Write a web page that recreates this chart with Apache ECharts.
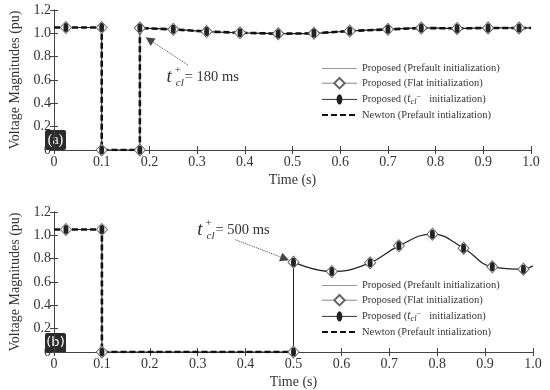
<!DOCTYPE html>
<html><head><meta charset="utf-8">
<script src="https://cdn.jsdelivr.net/npm/echarts@6/dist/echarts.min.js"></script>
<style>html,body{margin:0;padding:0;background:#fff}#c{width:550px;height:390px}</style>
</head><body><div id="c"></div>
<script>
// ---- Data ----
const xTicks = [0,0.1,0.2,0.3,0.4,0.5,0.6,0.7,0.8,0.9,1.0];
const yTicks = [0,0.2,0.4,0.6,0.8,1.0,1.2];
// Panel (a)
const aStepT = [0, 0.1, 0.1, 0.18, 0.18];
const aStepV = [1.05, 1.05, 0, 0, 1.045];
const aCurveT = [0.18, 0.25, 0.32, 0.39, 0.47, 0.545, 0.62, 0.70, 0.77, 0.845, 0.91, 0.975, 1.0];
const aCurveV = [1.045, 1.034, 1.015, 1.005, 0.997, 1.0, 1.02, 1.034, 1.046, 1.042, 1.046, 1.046, 1.046];
const aMarkT = [0.025, 0.1, 0.1, 0.18, 0.18, 0.25, 0.32, 0.39, 0.47, 0.545, 0.62, 0.70, 0.77, 0.845, 0.91, 0.975];
const aMarkV = [1.05, 1.05, 0, 0, 1.045, 1.034, 1.015, 1.005, 0.997, 1.0, 1.02, 1.034, 1.046, 1.042, 1.046, 1.046];
const aNewtonT = [0, 0.1, 0.1, 0.18, 0.18, 0.25, 0.32, 0.39, 0.47, 0.545, 0.62, 0.70, 0.77, 0.845, 0.91, 0.975, 1.0];
const aNewtonV = [1.05, 1.05, 0, 0, 1.045, 1.034, 1.015, 1.005, 0.997, 1.0, 1.02, 1.034, 1.046, 1.042, 1.046, 1.046, 1.046];
const aArrow = [[0.281, 0.728], [0.2, 0.945]];
const aText = [0.235, 0.625];
// Panel (b)
const bStepT = [0, 0.1, 0.1, 0.5, 0.5];
const bStepV = [1.05, 1.05, 0, 0, 0.77];
const bCurveT = [0.5, 0.58, 0.66, 0.72, 0.79, 0.855, 0.915, 0.98, 1.0];
const bCurveV = [0.77, 0.69, 0.765, 0.91, 1.01, 0.89, 0.73, 0.71, 0.74];
const bMarkT = [0.025, 0.1, 0.1, 0.5, 0.5, 0.58, 0.66, 0.72, 0.79, 0.855, 0.915, 0.98];
const bMarkV = [1.05, 1.05, 0, 0, 0.77, 0.69, 0.765, 0.91, 1.01, 0.89, 0.73, 0.71];
const bNewtonT = [0, 0.1, 0.1, 0.5];
const bNewtonV = [1.05, 1.05, 0, 0];
const bArrow = [[0.379, 0.962], [0.482, 0.80]];
const bText = [0.298, 1.047];

const N1 = 'Proposed (Prefault initialization)';
const N2 = 'Proposed (Flat initialization)';
const N3 = 'Proposed (tcl- initialization)';
const N4 = 'Newton (Prefault intialization)';
const labelsA = ['(a)'], labelsB = ['(b)'];
const annA = '180 ms', annB = '500 ms';

// ---- Build ----
const zip = (t, v) => t.map((x, i) => [x, v[i]]);
const SERIF = 'Liberation Serif';
// ellipse (10x18) centred in an 18x18 box so that square-sized symbols still look elliptical
const ellipse = 'path://M0,0 L0.01,0 M4,9 A5,9 0 1,1 14,9 A5,9 0 1,1 4,9 Z M18,18 L17.99,18';

function xAxes(g) {
  const base = {type:'value', gridIndex:g, min:0, max:1, interval:0.1,
    axisLine:{show:true, lineStyle:{color:'#444', width:1}},
    axisTick:{show:true, inside:true, length:4, lineStyle:{color:'#444'}},
    splitLine:{show:false}};
  return [
    Object.assign({}, base, {position:'bottom', name:'Time (s)', nameLocation:'middle', nameGap:23,
      nameTextStyle:{fontFamily:SERIF, fontSize:14, color:'#333'},
      axisLabel:{fontFamily:SERIF, fontSize:14, color:'#333', margin:5,
        formatter: v => v === 0 ? '0' : v.toFixed(1)}}),
    Object.assign({}, base, {position:'top', axisLabel:{show:false}})
  ];
}
function yAxes(g) {
  const base = {type:'value', gridIndex:g, min:0, max:1.2, interval:0.2,
    axisLine:{show:true, lineStyle:{color:'#444', width:1}},
    axisTick:{show:true, inside:true, length:4, lineStyle:{color:'#444'}},
    splitLine:{show:false}};
  return [
    Object.assign({}, base, {position:'left', name:'Voltage Magnitudes (pu)', nameLocation:'middle', nameGap:32,
      nameTextStyle:{fontFamily:SERIF, fontSize:14, color:'#333'},
      axisLabel:{fontFamily:SERIF, fontSize:14, color:'#333', margin:3,
        formatter: v => v === 0 ? '0' : v.toFixed(1)}}),
    Object.assign({}, base, {position:'right', axisLabel:{show:false}})
  ];
}

const annRich = {
  t:{fontFamily:SERIF, fontStyle:'italic', fontSize:19, lineHeight:24, color:'#333'},
  sp:{fontFamily:SERIF, fontSize:11, lineHeight:11, verticalAlign:'top', width:1, padding:[0,0,0,3], color:'#333'},
  sb:{fontFamily:SERIF, fontStyle:'italic', fontSize:11, lineHeight:11, verticalAlign:'bottom', color:'#333'},
  eq:{fontFamily:SERIF, fontSize:14.5, lineHeight:24, color:'#333', padding:[0,0,0,1]}
};

function panelSeries(xi, stepT, stepV, curveT, curveV, markT, markV, newT, newV, arrow, txt, ann) {
  return [
    {name:N1, type:'line', xAxisIndex:xi, yAxisIndex:xi, data:zip(stepT, stepV), symbol:'none', showSymbol:false,
      lineStyle:{color:'#222', width:1}, itemStyle:{color:'#888'}, z:2, animation:false},
    {name:N1, type:'line', xAxisIndex:xi, yAxisIndex:xi, data:zip(curveT, curveV), symbol:'none', showSymbol:false, smooth:0.45,
      lineStyle:{color:'#222', width:1.2}, itemStyle:{color:'#888'}, z:2, animation:false,
      markLine:{silent:true, animation:false, label:{show:false}, lineStyle:{type:'dotted', color:'#444', width:1},
        data:[[{coord:arrow[0], symbol:'none'}, {coord:arrow[1], symbol:'triangle', symbolSize:9}]]},
      markPoint:{silent:true, animation:false, data:[{coord:txt, symbol:'rect', symbolSize:1,
        itemStyle:{color:'transparent'},
        label:{show:true, position:'right', distance:0, formatter:'{t|t}{sp|+}{sb|cl}{eq|= ' + ann + '}', rich:annRich}}]}},
    {name:N4, type:'line', xAxisIndex:xi, yAxisIndex:xi, data:zip(newT, newV), symbol:'none', showSymbol:false,
      lineStyle:{color:'#111', width:2.6, type:[6,3]}, itemStyle:{color:'#111'}, z:3, animation:false},
    {name:N2, type:'line', xAxisIndex:xi, yAxisIndex:xi, data:zip(markT, markV), symbol:'diamond', symbolSize:[11,12],
      showAllSymbol:true, lineStyle:{opacity:0}, itemStyle:{color:'#fff', borderColor:'#666', borderWidth:1}, z:4, animation:false},
    {name:N3, type:'line', xAxisIndex:xi, yAxisIndex:xi, data:zip(markT, markV), symbol:ellipse, symbolSize:[9,9],
      showAllSymbol:true, lineStyle:{opacity:0}, itemStyle:{color:'#222'}, z:5, animation:false}
  ];
}

const legRich = {
  n:{fontFamily:SERIF, fontSize:10.5, color:'#333'},
  t:{fontFamily:SERIF, fontStyle:'italic', fontSize:11.5, color:'#333', lineHeight:14},
  sb:{fontFamily:SERIF, fontStyle:'italic', fontSize:8.5, color:'#333', lineHeight:8, verticalAlign:'bottom'},
  sp:{fontFamily:SERIF, fontSize:8.5, color:'#333', lineHeight:8, verticalAlign:'top'}
};
function legend(top) {
  return {top:top, left:321, padding:0, orient:'vertical', itemWidth:35, itemHeight:13, itemGap:3,
    selectedMode:false, textStyle:{fontFamily:SERIF, fontSize:10.5, color:'#333', rich:legRich},
    formatter: n => n === N3 ? '{n|Proposed (}{t|t}{sb|cl}{sp|\u2212}{n|   initialization)}' : '{n|' + n + '}',
    data:[
      {name:N1, itemStyle:{opacity:0}, lineStyle:{color:'#999', width:1}},
      {name:N2, lineStyle:{opacity:1, color:'#888', width:1}},
      {name:N3, lineStyle:{opacity:1, color:'#333', width:1}},
      {name:N4, itemStyle:{opacity:0}}
    ]};
}

const chart = echarts.init(document.getElementById('c'), null, {renderer:'canvas'});
chart.setOption({
  animation:false,
  grid:[{left:45, right:19, top:10, height:140}, {left:45, right:17, top:212, height:141}],
  xAxis: xAxes(0).concat(xAxes(1)),
  yAxis: yAxes(0).concat(yAxes(1)),
  legend:[legend(63), legend(280)],
  series: panelSeries(0, aStepT, aStepV, aCurveT, aCurveV, aMarkT, aMarkV, aNewtonT, aNewtonV, aArrow, aText, annA)
    .concat(panelSeries(2, bStepT, bStepV, bCurveT, bCurveV, bMarkT, bMarkV, bNewtonT, bNewtonV, bArrow, bText, annB)),
  graphic:[
    {type:'group', left:45, top:130, children:[
      {type:'rect', shape:{x:0, y:0, width:21, height:20, r:2}, style:{fill:'#2b2b2b'}},
      {type:'text', style:{text:labelsA[0], x:10.5, y:10, align:'center', verticalAlign:'middle', fill:'#fff', font:'14px "Liberation Serif"'}}]},
    {type:'group', left:45, top:333, children:[
      {type:'rect', shape:{x:0, y:0, width:21, height:20, r:2}, style:{fill:'#2b2b2b'}},
      {type:'text', style:{text:labelsB[0], x:10.5, y:10, align:'center', verticalAlign:'middle', fill:'#fff', font:'13px "DejaVu Sans"'}}]}
  ]
});
</script></body></html>
